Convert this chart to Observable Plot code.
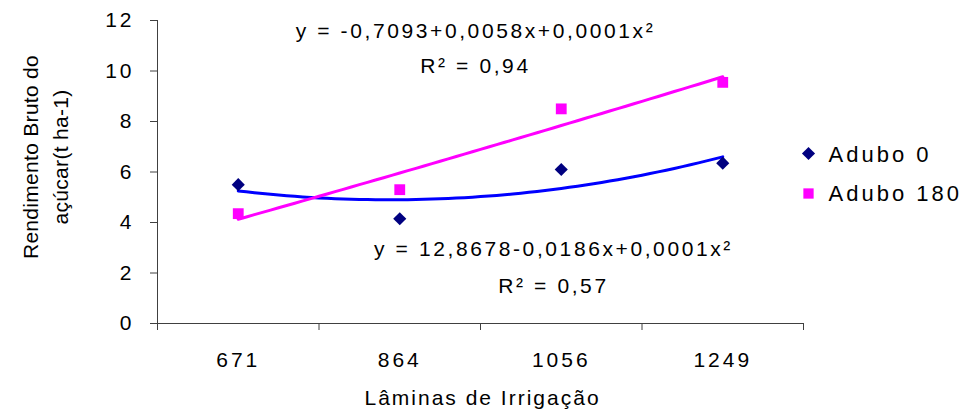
<!DOCTYPE html>
<html><head><meta charset="utf-8">
<script src="https://cdn.jsdelivr.net/npm/d3@7"></script>
<script src="https://cdn.jsdelivr.net/npm/@observablehq/plot@0.6"></script>
<style>
body{margin:0;background:#fff;}
#chart svg{display:block;}
</style>
</head><body><div id="chart"></div>
<script>
const laminas = ["671", "864", "1056", "1249"];
const categoryIndex = [1, 2, 3, 4];
const adubo0 = [5.5, 4.15, 6.1, 6.35];
const adubo180 = [4.35, 5.3, 8.5, 9.55];
const seriesNames = ["Adubo 0", "Adubo 180"];
const equations = [
  "y = -0,7093+0,0058x+0,0001x²\nR² = 0,94",
  "y = 12,8678-0,0186x+0,0001x²\nR² = 0,57"
];
const yTicks = [0, 2, 4, 6, 8, 10, 12];
const xTitle = "Lâminas de Irrigação";
const yTitle = "Rendimento Bruto do\naçúcar(t ha-1)";

// least-squares quadratic (polynomial order 2) trendline, as in the source chart
function quadFit(xs, ys) {
  const S = [[0,0,0],[0,0,0],[0,0,0]], T = [0,0,0];
  xs.forEach((x, i) => {
    const p = [1, x, x * x];
    for (let r = 0; r < 3; r++) { T[r] += p[r] * ys[i]; for (let c = 0; c < 3; c++) S[r][c] += p[r] * p[c]; }
  });
  const A = S.map((row, r) => [...row, T[r]]);
  for (let k = 0; k < 3; k++) {
    for (let r = k + 1; r < 3; r++) {
      const f = A[r][k] / A[k][k];
      for (let c = k; c < 4; c++) A[r][c] -= f * A[k][c];
    }
  }
  const sol = [0,0,0];
  for (let r = 2; r >= 0; r--) {
    let s = A[r][3];
    for (let c = r + 1; c < 3; c++) s -= A[r][c] * sol[c];
    sol[r] = s / A[r][r];
  }
  return x => sol[0] + sol[1] * x + sol[2] * x * x;
}

const points = [];
categoryIndex.forEach((x, i) => {
  points.push({x, v: adubo0[i], s: seriesNames[0]});
  points.push({x, v: adubo180[i], s: seriesNames[1]});
});

const f0 = quadFit(categoryIndex, adubo0);
const f1 = quadFit(categoryIndex, adubo180);
const xs = d3.range(categoryIndex[0], categoryIndex[3] + 1e-9, 0.05);
const trend0 = xs.map(x => ({x, v: f0(x)}));
const trend1 = xs.map(x => ({x, v: f1(x)}));
const bounds = categoryIndex.map(i => i - 0.5).concat([categoryIndex[3] + 0.5]);

const axisColor = "#404040";

const chart = Plot.plot({
  width: 968,
  height: 410,
  marginLeft: 157,
  marginRight: 165,
  marginTop: 20,
  marginBottom: 87,
  style: {fontFamily: "'Liberation Sans', Arial, sans-serif", fontSize: "21px", color: "#000", background: "#fff"},
  x: {domain: [bounds[0], bounds[4]]},
  y: {domain: [0, 12]},
  marks: [
    Plot.ruleY([0], {stroke: axisColor}),
    Plot.ruleX([bounds[0]], {stroke: axisColor}),
    Plot.axisY({ticks: yTicks, tickSize: 7, tickPadding: 16, label: null, stroke: axisColor, fill: "#000", fontSize: 21}),
    Plot.axisX({ticks: categoryIndex, tickSize: 0, tickPadding: 29, tickFormat: i => laminas[i - 1], label: null, fill: "#000", fontSize: 21}),
    Plot.axisX({ticks: bounds, tickSize: 7, tickFormat: () => "", label: null, stroke: axisColor}),
    Plot.line(trend0, {x: "x", y: "v", stroke: "#0000FF", strokeWidth: 3}),
    Plot.line(trend1, {x: "x", y: "v", stroke: "#FF00FF", strokeWidth: 3}),
    Plot.dot(points.filter(d => d.s === seriesNames[0]), {x: "x", y: "v", symbol: "diamond2", fill: "#000080", stroke: "none", r: 5.9}),
    Plot.dot(points.filter(d => d.s === seriesNames[1]), {x: "x", y: "v", symbol: "square", fill: "#FF00FF", stroke: "none", r: 6.1}),
    Plot.text([equations[0]], {text: d => d, frameAnchor: "top-left", dx: 318, dy: 24, textAnchor: "middle", lineAnchor: "middle", lineHeight: 1.65, fill: "#000", fontSize: 21}),
    Plot.text([equations[1]], {text: d => d, frameAnchor: "top-left", dx: 396, dy: 242, textAnchor: "middle", lineAnchor: "middle", lineHeight: 1.8, fill: "#000", fontSize: 21}),
    Plot.dot([0], {frameAnchor: "top-right", dx: 5, dy: 133, symbol: "diamond2", fill: "#000080", stroke: "none", r: 5.9}),
    Plot.dot([0], {frameAnchor: "top-right", dx: 5, dy: 173, symbol: "square", fill: "#FF00FF", stroke: "none", r: 5.8}),
    Plot.text([seriesNames[0]], {text: d => d, frameAnchor: "top-right", dx: 25, dy: 134, textAnchor: "start", lineAnchor: "middle", fill: "#000", fontSize: 22}),
    Plot.text([seriesNames[1]], {text: d => d, frameAnchor: "top-right", dx: 25, dy: 173, textAnchor: "start", lineAnchor: "middle", fill: "#000", fontSize: 22}),
    Plot.text([xTitle], {text: d => d, frameAnchor: "bottom", dx: 2, dy: 75, textAnchor: "middle", lineAnchor: "middle", fill: "#000", fontSize: 21}),
    Plot.text([yTitle], {text: d => d, frameAnchor: "left", dx: -114, dy: -15, rotate: -90, textAnchor: "middle", lineAnchor: "middle", lineHeight: 1.45, fill: "#000", fontSize: 21})
  ]
});
document.getElementById("chart").appendChild(chart);

// tracking to match the wide text of the source chart
d3.select(chart).selectAll("text").each(function() {
  const t = this.textContent;
  let v = null;
  if (/^y =|^R²/.test(t)) v = "2.6px";
  else if (seriesNames.includes(t)) v = "3px";
  else if (t === xTitle) v = "2px";
  else if (/^Rendimento|^açúcar/.test(t) || t === yTitle.replace("\n", "")) v = "0.3px";
  else if (/^\d+$/.test(t)) v = "3px";
  if (v) d3.select(this).style("letter-spacing", v);
});
</script>
</body></html>
